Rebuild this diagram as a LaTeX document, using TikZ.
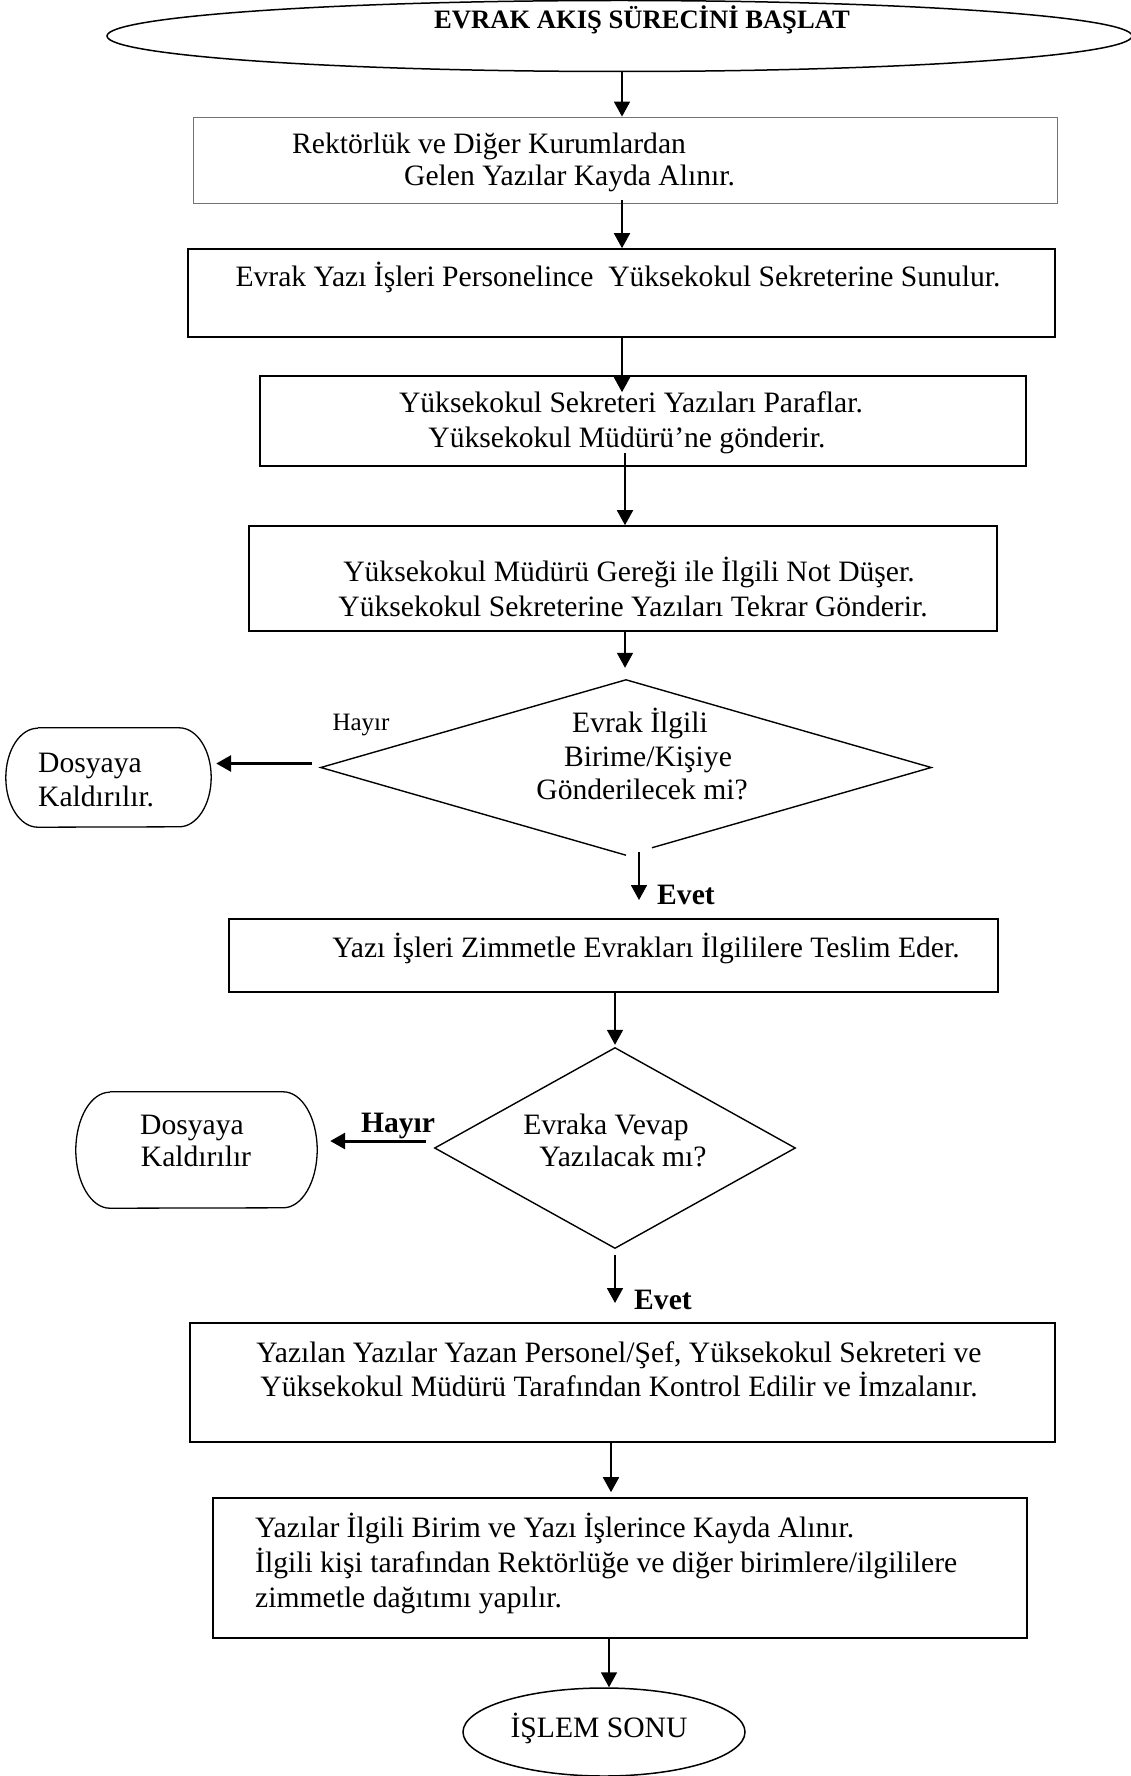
\documentclass[tikz,border=0pt]{standalone}
\usepackage{fontspec}
\setmainfont{Liberation Serif}
\usetikzlibrary{arrows.meta,shapes.geometric,calc}
\begin{document}
\begin{tikzpicture}[x=1pt,y=-1pt,
  box/.style={draw, line width=1.6pt, rectangle, inner sep=0pt},
  thinbox/.style={draw=black!55, line width=0.8pt, rectangle, inner sep=0pt},
  size/.style 2 args={minimum width=#1pt, minimum height=#2pt},
  oval/.style={draw, line width=1.5pt, ellipse, inner sep=0pt},
  decision/.style={diamond, inner sep=0pt},
  holder/.style={rectangle, inner sep=0pt},
  outline/.style={line width=1.4pt, line join=miter},
  txt/.style={inner sep=0pt, anchor=base, font=\fontsize{29.6}{34}\selectfont},
  txtl/.style={txt, anchor=base west},
  txtb/.style={inner sep=0pt, anchor=base, font=\fontsize{29.6}{34}\selectfont\bfseries},
  arr/.style={line width=1.8pt, -{Triangle[length=15pt,width=16pt]}},
  thickarr/.style={line width=3pt, -{Triangle[length=15pt,width=16pt]}}
]
\useasboundingbox (0,0) rectangle (1131,1776);

% ---- shapes ----
\node[oval, size={1025}{71}] (start) at (619.5,36) {};
\node[thinbox, size={864}{86}] (b1) at (625,160) {};
\node[box, size={867}{88}] (b2) at (621.5,293) {};
\node[box, size={766}{90}] (b3) at (643,421) {};
\node[box, size={748}{105}] (b4) at (623,578.5) {};
\node[decision, size={610}{175}] (d1) at (626,767.5) {};
\node[holder, size={205}{99}] (s1) at (108.5,777.5) {};
\node[box, size={769}{73}] (b5) at (613.5,955.5) {};
\node[decision, size={360}{200}] (d2) at (615,1148) {};
\node[holder, size={241}{116}] (s2) at (196.5,1150) {};
\node[box, size={865}{119}] (b6) at (622.5,1382.5) {};
\node[box, size={814}{140}] (b7) at (620,1568) {};
\node[oval, size={282}{88}] (end) at (604,1732) {};

% decision outlines (the lower right edge of the first one stops short)
\draw[outline] (d1.south) -- (d1.west) -- (d1.north) -- (d1.east)
  -- ($(d1.east)!0.915!(d1.south)$);
\draw[outline] (d2.north) -- (d2.east) -- (d2.south) -- (d2.west) -- cycle;

% archive boxes with bulging sides
\draw[line width=1.3pt] ([xshift=32pt]s1.north west) -- ([xshift=-32pt]s1.north east)
  arc[start angle=90, end angle=-90, x radius=32pt, y radius=49.5pt]
  -- ([xshift=32pt]s1.south west)
  arc[start angle=270, end angle=90, x radius=32pt, y radius=49.5pt];
\draw[line width=1.3pt] ([xshift=34pt]s2.north west) -- ([xshift=-34pt]s2.north east)
  arc[start angle=90, end angle=-90, x radius=34pt, y radius=58pt]
  -- ([xshift=34pt]s2.south west)
  arc[start angle=270, end angle=90, x radius=34pt, y radius=58pt];

% ---- texts ----
\node[inner sep=0pt, anchor=base, font=\fontsize{26.6}{32}\selectfont\bfseries] (t0) at (642,29) {EVRAK AKIŞ SÜRECİNİ BAŞLAT};
\node[txtl] (t1a) at (292,154) {Rektörlük ve Diğer Kurumlardan};
\node[txtl] (t1b) at (404,186) {Gelen Yazılar Kayda Alınır.};
\node[txt] (t2) at (618,287) {Evrak Yazı İşleri Personelince\ \ Yüksekokul Sekreterine Sunulur.};
\node[txt] (t3a) at (631,412) {Yüksekokul Sekreteri Yazıları Paraflar.};
\node[txt] (t3b) at (627,447) {Yüksekokul Müdürü’ne gönderir.};
\node[txt] (t4a) at (629,581) {Yüksekokul Müdürü Gereği ile İlgili Not Düşer.};
\node[txt] (t4b) at (633,616) {Yüksekokul Sekreterine Yazıları Tekrar Gönderir.};
\node[txt] (q1a) at (640,732) {Evrak İlgili};
\node[txt] (q1b) at (648,766) {Birime/Kişiye};
\node[txt] (q1c) at (642,799) {Gönderilecek mi?};
\node[inner sep=0pt, anchor=base, font=\fontsize{25}{30}\selectfont] (h1) at (361,730) {Hayır};
\node[txtl] (k1a) at (38,772) {Dosyaya};
\node[txtl] (k1b) at (38,806) {Kaldırılır.};
\node[txtb] (e1) at (686,904) {Evet};
\node[txt] (t5) at (646,957) {Yazı İşleri Zimmetle Evrakları İlgililere Teslim Eder.};
\node[txt] (q2a) at (606,1134) {Evraka Vevap};
\node[txt] (q2b) at (623,1166) {Yazılacak mı?};
\node[txtb] (h2) at (398,1132) {Hayır};
\node[txt] (k2a) at (192,1134) {Dosyaya};
\node[txt] (k2b) at (196,1166) {Kaldırılır};
\node[txtb] (e2) at (663,1309) {Evet};
\node[txt] (t6a) at (619,1362) {Yazılan Yazılar Yazan Personel/Şef, Yüksekokul Sekreteri ve};
\node[txt] (t6b) at (619,1396) {Yüksekokul Müdürü Tarafından Kontrol Edilir ve İmzalanır.};
\node[txtl] (t7a) at (255,1537) {Yazılar İlgili Birim ve Yazı İşlerince Kayda Alınır.};
\node[txtl] (t7b) at (255,1572) {İlgili kişi tarafından Rektörlüğe ve diğer birimlere/ilgililere};
\node[txtl] (t7c) at (255,1607) {zimmetle dağıtımı yapılır.};
\node[inner sep=0pt, anchor=base, font=\fontsize{29.6}{34}\selectfont] (t8) at (599,1737) {İŞLEM SONU};

% ---- connector columns ----
\coordinate (c1) at (622,0);
\coordinate (c2) at (625,0);
\coordinate (c5) at (615,0);
\coordinate (c6) at (611,0);
\coordinate (c7) at (609,0);
\coordinate (yes1) at (639,900);
\coordinate (yes2) at (615,1303);
\coordinate (no1) at ($(d1.west)+(-9,-4)$);
\coordinate (no2) at ($(d2.west)+(-9,-7)$);

% ---- connectors ----
\draw[arr] (start.south -| c1) -- (b1.north -| c1);
\draw[arr] ($(b1.south -| c1)+(0,-3)$) -- (b2.north -| c1);
\draw[arr] (b2.south -| c1) -- ($(b3.north -| c1)+(0,17)$);
\draw[arr] ($(b3.south -| c2)+(0,-14)$) -- (b4.north -| c2);
\draw[arr] (b4.south -| c2) -- ($(d1.north -| c2)+(0,-12)$);
\draw[thickarr] (no1) -- ($(s1.east |- no1)+(5,0)$);
\draw[arr] ($(d1.south)+(13,-3)$) -- (yes1);
\draw[arr] (b5.south -| c5) -- ($(d2.north -| c5)+(0,-3)$);
\draw[thickarr] (no2) -- ($(s2.east |- no2)+(13,0)$);
\draw[arr] ($(d2.south)+(0,7)$) -- (yes2);
\draw[arr] (b6.south -| c6) -- ($(b7.north -| c6)+(0,-5)$);
\draw[arr] (b7.south -| c7) -- (end.north -| c7);
\end{tikzpicture}
\end{document}
